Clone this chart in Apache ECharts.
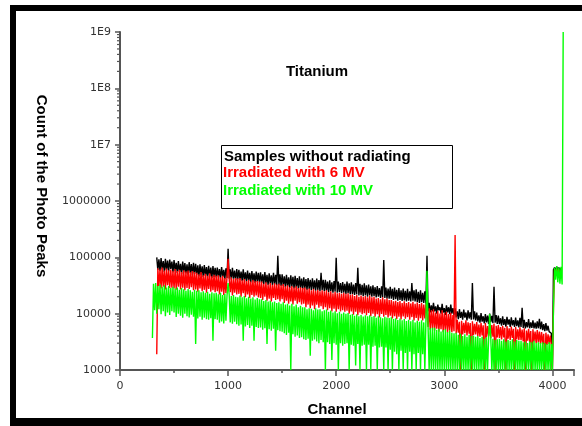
<!DOCTYPE html>
<html><head><meta charset="utf-8">
<script src="https://cdn.jsdelivr.net/npm/echarts@6/dist/echarts.min.js"></script>
<style>html,body{margin:0;padding:0;background:#fff}#c{width:582px;height:426px}</style>
</head><body><div id="c"></div>
<script>
// ---- data (channel grid: 300, 310, ... 4100) ----
const channelStart = 300;
const channelStep = 10;
const xTickValues = [0, 1000, 2000, 3000, 4000];
const yTickLabels = ['1000', '10000', '100000', '1000000', '1E7', '1E8', '1E9'];
const yMinorMultipliers = [2, 3, 4, 5, 6, 7, 8, 9];
const seriesNames = ['Samples without radiating', 'Irradiated with 6 MV', 'Irradiated with 10 MV'];

const blackCounts = [
  null,null,null,null,100000,60000,92000,57000,97000,61000,86000,55000,94000,59000,88000,56000,91000,62000,84000,54000,
  89000,57000,80000,53000,86000,55000,77000,50000,84000,54000,79000,52000,75000,49000,82000,53000,76000,48000,80000,51000,
  77000,49000,72000,46000,75000,48000,69000,45000,73000,47000,67000,44000,71000,46000,66000,43000,70000,45000,65000,44000,
  66000,44000,62000,42000,67000,45000,60000,41000,64000,43000,142000,42000,61000,40000,65000,42000,58000,39000,62000,41000,
  60000,40000,56000,38000,61000,39000,54000,37000,58000,38500,53000,36000,57000,37500,52000,35000,56000,36500,53000,35500,
  54000,35000,50000,33500,55000,34500,49000,32500,52000,34000,48000,32000,53000,33000,49000,31500,107000,32000,50000,31000,
  50000,31000,46000,29500,49000,30500,44000,28500,48000,30000,45000,28000,47000,29000,43000,27500,46000,28500,42000,27000,
  44000,28000,41000,26500,43000,27500,40000,26000,42500,27000,39000,25500,42000,26500,39500,25000,53000,26000,40000,25000,
  40000,25500,37000,24000,39000,25000,36000,23500,38000,24500,98000,23500,37000,24000,35000,23000,36500,23500,34000,22500,
  37000,23000,34500,22000,36000,22500,33000,21500,35000,22000,65000,21000,34000,21500,32500,20500,34500,21000,32000,20000,
  33000,21000,30500,20000,32000,20500,29500,19500,31000,20000,28500,19000,30500,19500,90000,19000,29000,18500,28000,18500,
  30000,18500,27500,17500,29000,18000,26500,17000,28500,17500,26000,16800,28000,17200,25500,16500,27500,17000,25000,16500,
  35000,17000,26000,16500,27000,16000,24500,15500,26000,16000,23500,15500,25000,15000,107000,11000,15500,10500,14000,11000,
  15500,11000,13500,10000,14500,11500,13000,10000,15000,10500,12500,9500,14000,10500,13000,9800,14500,10000,12500,9500,
  12500,8600,11000,8000,12000,8400,10800,7800,11800,8500,10500,7600,11500,8200,10600,7800,35000,7900,11000,7600,
  10500,7300,9300,6900,10200,7200,9000,6700,9800,7000,9200,6600,10000,7100,9100,6800,30000,6900,9400,6600,
  9200,6500,8300,6100,9000,6300,8000,5900,8800,6400,7900,5800,8600,6200,7700,5800,8500,6000,7600,5700,
  8400,5800,12700,5600,7800,5500,7100,5700,8000,5500,7000,5600,7600,5500,6900,5400,7300,5500,8100,5300,
  7200,5100,6500,4900,6800,5000,6100,4800,5200,4500,
  1000,60000,66000,58000,68000,60000,66000,58000,64000,null,null
];
const redCounts = [
  null,null,null,null,1900,64000,31000,60000,28000,66000,30000,58000,27000,63000,32000,59000,28500,61000,29000,57000,
  28000,62000,26500,57000,30000,60000,27000,55000,29000,59000,26000,56000,28500,58000,27500,54000,29500,57000,26000,55000,
  27000,53000,24500,50000,28000,55000,25000,48000,26500,51000,23500,47000,27500,52000,24500,46000,26000,49000,24000,47000,
  25000,48000,22000,44000,24500,47000,21500,43000,23000,45000,94000,42000,24000,44000,21000,41000,23500,43000,22000,42000,
  22500,43000,20000,39000,23000,41000,19500,38000,22000,40000,19000,37000,21500,39500,20000,37500,21000,38000,19500,37000,
  19000,37000,17500,34000,20000,36000,17000,33000,18500,35000,16500,32500,19000,34500,17500,33000,18000,34000,16500,32000,
  18000,33500,15500,30500,17000,32000,15000,29500,16500,31000,14500,29000,17000,30500,15000,28500,16000,29500,14500,28500,
  15000,29000,13000,27000,14500,28000,12500,26000,14000,27500,12000,25500,14500,26500,12800,25000,13500,26000,12000,25000,
  13000,26000,11500,24000,12500,25000,11000,23000,12200,24500,10800,23000,12000,23500,11000,22500,11500,23500,10800,22500,
  11300,23000,10000,21500,11000,22000,9600,20500,10800,21500,9400,20000,10500,21000,9800,20000,10200,20500,9400,19500,
  10300,21000,9000,19500,10000,20000,8800,18500,9800,19000,8600,18000,9900,19500,8800,18000,9500,18500,8600,17500,
  9200,17500,8200,16500,9000,17000,8000,16000,8800,16800,7900,15500,8900,16500,8100,15500,8700,16000,7800,15200,
  8700,16200,7600,15000,8400,15800,7500,14800,8300,15500,7600,14500,8200,15000,14500,5800,12500,5200,11500,5500,
  11800,5000,10500,5400,11200,4800,10000,5300,11500,4700,10200,5100,10800,4600,9800,5000,10400,4700,9500,4900,
  250000,4400,7800,4600,7200,1000,7500,4300,6900,4500,7600,4100,7000,4400,6800,1000,7300,4200,6600,4300,
  7100,4000,6400,3900,6900,4100,6200,1000,6800,3800,6000,4000,6600,3700,6300,3900,6700,1000,6100,3800,
  6300,3700,5800,3500,6100,3800,5600,1000,6000,3600,5500,3400,5900,3700,5400,1000,5800,3500,5300,3400,
  5700,3400,5200,3200,5500,1000,5000,3300,5400,3100,4900,1000,5300,3200,4800,3000,5100,3100,4800,2900,
  4700,2900,4400,1000,4600,2800,4300,2900,4100,2800,
  1000,12700,62000,50000,64000,52000,62000,48000,60000,null,null
];
const greenCounts = [
  3700,34000,11500,35000,10000,31000,12000,33000,9800,30000,11000,32000,9000,29000,10500,31000,9500,28500,11000,30000,
  10500,28000,8700,29000,10000,26500,9200,28500,8500,27000,10000,25500,9000,27500,8600,26000,9600,24500,8800,26500,
  2900,25500,8200,26000,8800,24000,7800,25000,8500,23500,8000,24500,7800,22500,8300,24000,3300,23000,8000,23500,
  7800,22000,6900,23500,7300,21500,6700,22500,7500,21000,35000,22000,7000,20500,6600,21500,7200,20000,6500,19500,
  6100,21000,6400,19500,3300,20500,5900,18800,6300,20000,5600,18500,6100,19500,3300,17800,5800,19000,5600,18000,
  5700,18000,5200,16800,5500,17500,2900,16500,5300,17000,5000,16000,5400,16500,2200,15500,5100,16000,4900,15000,
  4800,16000,4500,14500,4200,15000,4600,14000,1000,15000,4300,13500,3900,14500,4100,13000,3700,13800,3800,13000,
  3500,13000,3400,12000,3600,12500,1800,12200,3300,11500,3500,12500,3200,11800,3000,12000,3400,11000,3100,11500,
  1000,11800,3100,10800,2900,11400,1500,10500,3000,11000,2800,10200,1000,10800,3000,10000,2700,10500,2900,10000,
  3000,10300,1000,9600,2800,9900,2700,9200,1200,9800,2900,9000,1000,9500,2700,8900,2800,9400,1000,9000,
  2800,9400,1000,8800,2600,9100,2700,8500,1000,9000,2500,8600,2600,8300,1000,8800,2500,8500,1000,8400,
  2300,8600,1000,8000,2100,8300,1900,7700,1000,8200,2200,7600,1000,8000,2000,7400,1000,7800,2100,7300,
  1000,7800,1900,7000,1000,7500,2000,7200,1000,7600,1900,7000,1000,7300,58000,5800,1000,5500,1000,5600,
  1000,5600,1000,5200,1000,5400,1000,4800,1000,5100,1000,5300,1000,4700,1000,5000,1000,4600,1000,4500,
  1000,4600,1000,4200,1000,4400,1000,4000,1000,4300,1000,3900,1000,4200,1000,4000,1000,4100,1000,3900,
  1000,4000,1000,3700,1000,3900,1000,3600,1000,3800,1000,3500,9900,3700,1000,3600,1000,3400,1000,3500,
  1000,3600,1000,3300,1000,3500,1000,3200,1000,3400,1000,3300,1000,3500,1000,3200,1000,3400,1000,3300,
  1000,3300,1000,3100,1000,3200,1000,3000,1000,3200,1000,3100,1000,3300,1000,3000,1000,3100,1000,3000,
  1000,3100,1000,3000,1000,2900,1000,3100,1000,2900,
  1000,12000,65000,40000,70000,36000,66000,34000,68000,33000,1000000000
];

function toPairs(counts) {
  return counts.map((v, i) => [channelStart + i * channelStep, v]);
}

const chart = echarts.init(document.getElementById('c'), null, {renderer: 'canvas'});
const axisColor = '#555';
const labelFont = 'DejaVu Sans';
const boldFont = '"Liberation Sans", Arial, sans-serif';

const staticGraphics = [
  {type: 'rect', shape: {x: 10, y: 5, width: 572, height: 6}, style: {fill: '#000'}, silent: true},
  {type: 'rect', shape: {x: 10, y: 5, width: 6, height: 421}, style: {fill: '#000'}, silent: true},
  {type: 'rect', shape: {x: 10, y: 418, width: 572, height: 8}, style: {fill: '#000'}, silent: true},
  {type: 'text', x: 317, y: 72, style: {text: 'Titanium', font: 'bold 15px ' + boldFont, fill: '#000', textAlign: 'center', textVerticalAlign: 'middle'}},
  {type: 'text', x: 337, y: 410, style: {text: 'Channel', font: 'bold 15px ' + boldFont, fill: '#000', textAlign: 'center', textVerticalAlign: 'middle'}},
  {type: 'text', x: 41, y: 186, rotation: -Math.PI / 2, style: {text: 'Count of the Photo Peaks', font: 'bold 15px ' + boldFont, fill: '#000', textAlign: 'center', textVerticalAlign: 'middle'}},
  {type: 'rect', z: 10, shape: {x: 221.5, y: 145.5, width: 231, height: 63}, style: {fill: '#fff', stroke: '#000', lineWidth: 1}},
  {type: 'text', z: 11, x: 224, y: 157, style: {text: seriesNames[0], font: 'bold 15px ' + boldFont, fill: '#000', textAlign: 'left', textVerticalAlign: 'middle'}},
  {type: 'text', z: 11, x: 223, y: 173, style: {text: seriesNames[1], font: 'bold 15px ' + boldFont, fill: '#ff0000', textAlign: 'left', textVerticalAlign: 'middle'}},
  {type: 'text', z: 11, x: 223, y: 191, style: {text: seriesNames[2], font: 'bold 15px ' + boldFont, fill: '#00ff00', textAlign: 'left', textVerticalAlign: 'middle'}}
];

function mkSeries(name, counts, color) {
  return {
    name: name, type: 'line', data: toPairs(counts), showSymbol: false, symbol: 'none',
    sampling: null, connectNulls: false, clip: true, animation: false,
    lineStyle: {color: color, width: 1.4}, itemStyle: {color: color},
    emphasis: {disabled: true}
  };
}

chart.setOption({
  backgroundColor: '#fff',
  animation: false,
  grid: {left: 120, right: 8, top: 32, bottom: 56, containLabel: false},
  xAxis: {
    type: 'value', min: 0, max: 4200, interval: 1000,
    axisLine: {show: true, onZero: false, lineStyle: {color: axisColor, width: 2}},
    axisTick: {show: true, length: 6, lineStyle: {color: axisColor, width: 1.5}},
    minorTick: {show: true, splitNumber: 2, length: 3, lineStyle: {color: axisColor, width: 1.5}},
    splitLine: {show: false}, minorSplitLine: {show: false},
    axisLabel: {color: '#333', fontFamily: labelFont, fontSize: 11, margin: 11,
      formatter: v => (xTickValues.indexOf(v) >= 0 ? String(v) : '')}
  },
  yAxis: {
    type: 'log', logBase: 10, min: 1000, max: 1e9,
    axisLine: {show: true, lineStyle: {color: axisColor, width: 2}},
    axisTick: {show: true, length: 5, lineStyle: {color: axisColor, width: 1.5}},
    splitLine: {show: false},
    axisLabel: {color: '#333', fontFamily: labelFont, fontSize: 11, margin: 9,
      formatter: v => yTickLabels[Math.round(Math.log10(v)) - 3] || ''}
  },
  series: [
    mkSeries(seriesNames[0], blackCounts, '#000000'),
    mkSeries(seriesNames[1], redCounts, '#ff0000'),
    mkSeries(seriesNames[2], greenCounts, '#00ff00')
  ],
  graphic: {elements: staticGraphics}
});

const minorTicks = [];
const axisX = chart.convertToPixel({xAxisIndex: 0}, 0);
for (let d = 3; d < 9; d++) {
  yMinorMultipliers.forEach(m => {
    const py = chart.convertToPixel({yAxisIndex: 0}, m * Math.pow(10, d));
    minorTicks.push({type: 'line', silent: true,
      shape: {x1: axisX - 3, y1: py, x2: axisX, y2: py},
      style: {stroke: axisColor, lineWidth: 1.2}});
  });
}
chart.setOption({graphic: {elements: staticGraphics.concat(minorTicks)}});
</script></body></html>
